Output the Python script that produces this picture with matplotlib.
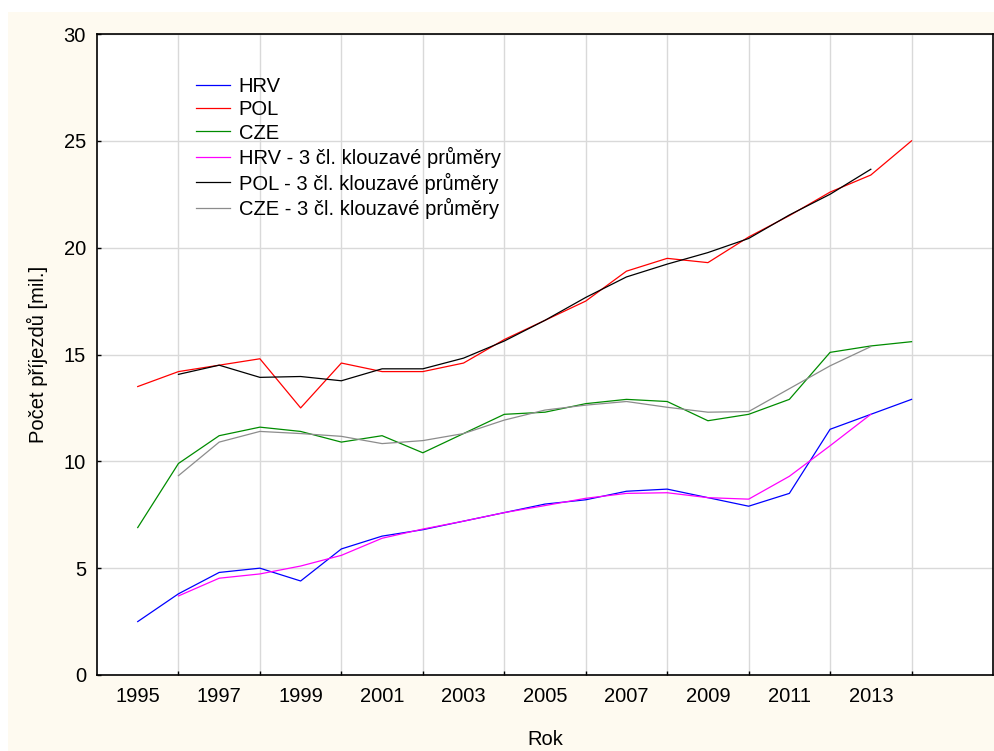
import matplotlib
matplotlib.use("Agg")
import matplotlib.pyplot as plt
from matplotlib.patches import Rectangle
from matplotlib.ticker import FixedLocator, NullFormatter

plt.rcParams['font.family'] = ['Liberation Sans', 'DejaVu Sans']

years = list(range(1995, 2015))
years_ma = list(range(1996, 2014))

hrv = [2.5, 3.8, 4.8, 5.0, 4.4, 5.9, 6.5, 6.8, 7.2, 7.6, 8.0, 8.2, 8.6, 8.7, 8.3, 7.9, 8.5, 11.5, 12.2, 12.9]
pol = [13.5, 14.2, 14.5, 14.8, 12.5, 14.6, 14.2, 14.2, 14.6, 15.7, 16.6, 17.5, 18.9, 19.5, 19.3, 20.5, 21.5, 22.6, 23.4, 25.0]
cze = [6.9, 9.9, 11.2, 11.6, 11.4, 10.9, 11.2, 10.4, 11.3, 12.2, 12.3, 12.7, 12.9, 12.8, 11.9, 12.2, 12.9, 15.1, 15.4, 15.6]

hrv_ma = [3.70, 4.53, 4.73, 5.10, 5.60, 6.40, 6.83, 7.20, 7.60, 7.93, 8.27, 8.50, 8.53, 8.30, 8.23, 9.30, 10.73, 12.20]
pol_ma = [14.07, 14.50, 13.93, 13.97, 13.77, 14.33, 14.33, 14.83, 15.63, 16.60, 17.67, 18.63, 19.23, 19.77, 20.43, 21.53, 22.50, 23.67]
cze_ma = [9.33, 10.90, 11.40, 11.30, 11.17, 10.83, 10.97, 11.30, 11.93, 12.40, 12.63, 12.80, 12.53, 12.30, 12.33, 13.40, 14.47, 15.37]

labels = ["HRV", "POL", "CZE",
          "HRV - 3 čl. klouzavé průměry",
          "POL - 3 čl. klouzavé průměry",
          "CZE - 3 čl. klouzavé průměry"]

x_label_years = list(range(1995, 2015, 2))
x_grid_years = list(range(1996, 2016, 2))
y_ticks = [0, 5, 10, 15, 20, 25, 30]

FS = 14.5
W, H = 995, 751
fig = plt.figure(figsize=(W / 100, H / 100), dpi=100)
fig.patch.set_facecolor('white')
fig.patches.append(Rectangle((8 / W, 0), (994 - 8) / W, (H - 12) / H,
                             transform=fig.transFigure, facecolor='#FEFAF0',
                             edgecolor='none', zorder=-10))

ax = fig.add_axes([97 / W, (H - 675) / H, (993 - 97) / W, (675 - 34) / H])
ax.set_facecolor('white')

lw = 0.9
ax.plot(years, hrv, color='#0000FF', lw=lw, label=labels[0], zorder=3)
ax.plot(years, pol, color='#FF0000', lw=lw, label=labels[1], zorder=3)
ax.plot(years, cze, color='#008C00', lw=lw, label=labels[2], zorder=3)
ax.plot(years_ma, hrv_ma, color='#FF00FF', lw=lw, label=labels[3], zorder=3)
ax.plot(years_ma, pol_ma, color='#000000', lw=lw, label=labels[4], zorder=3)
ax.plot(years_ma, cze_ma, color='#8C8C8C', lw=lw, label=labels[5], zorder=3)

ax.set_xlim(1994, 2016)
ax.set_ylim(0, 30)

ax.xaxis.set_major_locator(FixedLocator(x_label_years))
ax.xaxis.set_minor_locator(FixedLocator(x_grid_years))
ax.xaxis.set_minor_formatter(NullFormatter())
ax.set_xticklabels([str(y) for y in x_label_years])
ax.tick_params(axis='x', which='major', length=0, pad=9, labelsize=FS)
ax.tick_params(axis='x', which='minor', length=3, direction='in', width=1)

ax.set_yticks(y_ticks)
ax.set_yticklabels([str(v) for v in y_ticks])
ax.tick_params(axis='y', which='major', length=3, direction='in', pad=8, labelsize=FS, width=1)

ax.grid(False)
ax.xaxis.grid(True, which='minor', color='#D9D9D9', lw=1)
ax.yaxis.grid(True, which='major', color='#D9D9D9', lw=1)
ax.set_axisbelow(True)

for s in ax.spines.values():
    s.set_color('black')
    s.set_linewidth(1.2)

ax.set_xlabel("Rok", fontsize=FS, labelpad=17)
ax.set_ylabel("Počet příjezdů [mil.]", fontsize=FS, labelpad=11)

leg = ax.legend(loc='upper left', bbox_to_anchor=(0.102, 0.946), frameon=False,
                fontsize=FS, handlelength=1.65, handletextpad=0.45,
                labelspacing=0.22, borderaxespad=0)

fig.savefig("out.png", dpi=100, facecolor=fig.get_facecolor())
